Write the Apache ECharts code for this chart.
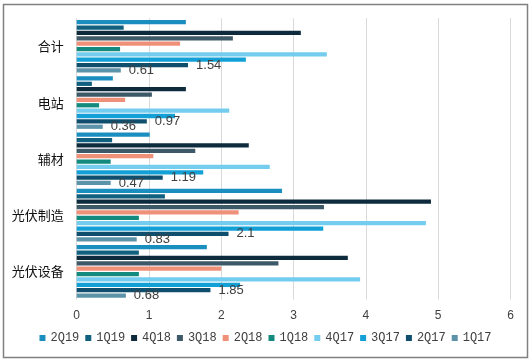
<!DOCTYPE html>
<html>
<head>
<meta charset="utf-8">
<script src="https://cdn.jsdelivr.net/npm/echarts@6/dist/echarts.min.js"></script>
<style>
html,body{margin:0;padding:0;background:#fff;}
#c{width:531px;height:362px;}
</style>
</head>
<body>
<div id="c"></div>
<script>
// Categories top to bottom
var categories = ['合计', '电站', '辅材', '光伏制造', '光伏设备'];
var seriesNames = ['2Q19', '1Q19', '4Q18', '3Q18', '2Q18', '1Q18', '4Q17', '3Q17', '2Q17', '1Q17'];
var s2Q19 = [1.51, 0.50, 1.01, 2.84, 1.80];
var s1Q19 = [0.65, 0.21, 0.49, 1.22, 0.86];
var s4Q18 = [3.10, 1.51, 2.38, 4.90, 3.75];
var s3Q18 = [2.16, 1.04, 1.64, 3.42, 2.79];
var s2Q18 = [1.43, 0.67, 1.06, 2.24, 2.00];
var s1Q18 = [0.60, 0.31, 0.47, 0.86, 0.86];
var s4Q17 = [3.46, 2.11, 2.67, 4.83, 3.92];
var s3Q17 = [2.34, 1.36, 1.75, 3.41, 2.26];
var s2Q17 = [1.54, 0.97, 1.19, 2.1, 1.85];
var s1Q17 = [0.61, 0.36, 0.47, 0.83, 0.68];
var xTicks = [0, 1, 2, 3, 4, 5, 6];

var seriesData = [s2Q19, s1Q19, s4Q18, s3Q18, s2Q18, s1Q18, s4Q17, s3Q17, s2Q17, s1Q17];
var colors = ['#1a8fbf', '#11607f', '#0d2b3d', '#3d5866', '#ef9079', '#138a7e', '#74cdee', '#12a0d6', '#0f4e6c', '#5d93a8'];
var labeled = {'2Q17': true, '1Q17': true};

var series = seriesNames.map(function (n, i) {
  return {
    name: n,
    type: 'bar',
    data: seriesData[i],
    barGap: '26%',
    barCategoryGap: '6.6%',
    itemStyle: {color: colors[i]},
    label: {
      show: !!labeled[n],
      position: 'right',
      distance: 8,
      color: '#404040',
      fontSize: 13,
      fontFamily: "'Liberation Sans Narrow', 'Liberation Sans', sans-serif"
    },
    emphasis: {disabled: true}
  };
});

var chart = echarts.init(document.getElementById('c'), null, {renderer: 'canvas'});
chart.setOption({
  animation: false,
  color: colors,
  grid: {left: 76.7, right: 20.5, top: 18.2, bottom: 62.5, containLabel: false},
  graphic: [{
    type: 'rect',
    shape: {x: 3.5, y: 4.5, width: 524, height: 353},
    style: {fill: 'none', stroke: '#808080', lineWidth: 1.5},
    silent: true,
    z: 100
  }],
  legend: {
    data: seriesNames,
    bottom: 13,
    left: 'center',
    icon: 'rect',
    itemWidth: 6,
    itemHeight: 6,
    itemGap: 6,
    textStyle: {fontSize: 12, color: '#404040', fontFamily: "'Liberation Mono', monospace"}
  },
  xAxis: {
    type: 'value',
    min: xTicks[0],
    max: xTicks[xTicks.length - 1],
    interval: 1,
    axisLine: {show: false},
    axisTick: {show: false},
    axisLabel: {color: '#404040', fontSize: 12, margin: 10, fontFamily: "'Liberation Sans', sans-serif"},
    splitLine: {show: true, lineStyle: {color: '#d9d9d9', width: 1}}
  },
  yAxis: {
    type: 'category',
    data: categories,
    inverse: true,
    axisLine: {show: false},
    axisTick: {show: false},
    axisLabel: {color: '#111', fontSize: 13, margin: 13, fontFamily: "'Noto Sans CJK SC', sans-serif"}
  },
  series: series
});
</script>
</body>
</html>
